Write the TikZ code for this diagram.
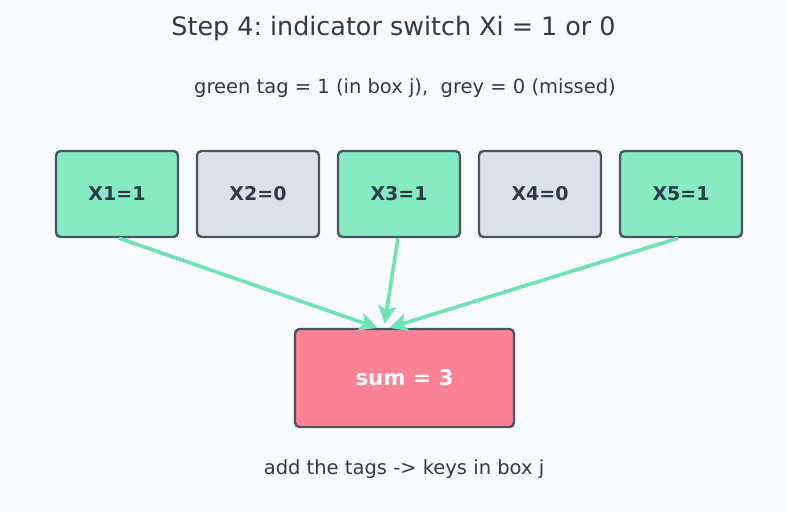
\documentclass[tikz,border=0pt]{standalone}
\usepackage{fontspec}
\setmainfont{DejaVu Sans}
\usetikzlibrary{arrows.meta}
\frenchspacing

\definecolor{bgpage}{HTML}{FAFBFE}
\definecolor{inkdark}{HTML}{2F3A4A}
\definecolor{edgegrey}{HTML}{4A5462}
\definecolor{taggreen}{HTML}{86EBC2}
\definecolor{tagline}{HTML}{6EE3B4}
\definecolor{misgrey}{HTML}{DDE1E7}
\definecolor{sumpink}{HTML}{FD8296}

\tikzset{
  tagbox/.style={draw=edgegrey, line width=2.4pt, rounded corners=4.5pt,
    minimum width=122pt, minimum height=86pt, inner sep=0pt,
    font=\fontsize{19}{22}\selectfont\bfseries, text=inkdark},
  hit/.style={tagbox, fill=taggreen},
  miss/.style={tagbox, fill=misgrey},
  sumbox/.style={draw=edgegrey, line width=2.4pt, rounded corners=4.5pt,
    fill=sumpink, minimum width=219pt, minimum height=98pt, inner sep=0pt,
    font=\fontsize{21.4}{24}\selectfont\bfseries, text=white},
  feed/.style={draw=tagline, line width=3.6pt,
    -{Stealth[length=18pt, width=18pt, inset=4pt]}}
}

\begin{document}
\begin{tikzpicture}[x=1pt, y=-1pt]
    % --- fondo ---
    \fill[bgpage] (0,0) rectangle (787,512);
    \useasboundingbox (0,0) rectangle (787,512);

    % --- textos ---
    \node[text=inkdark, font=\fontsize{25.4}{30}\selectfont] (title) at (393.5,28) {Step 4: indicator switch Xi = 1 or 0};
    \node[text=inkdark, font=\fontsize{19.5}{23}\selectfont] (legend) at (405,88.5) {green tag = 1 (in box j),\ \ grey = 0 (missed)};

    % --- indicadores ---
    \node[hit]  (x1) at (117,194) {X1=1};
    \node[miss] (x2) at (258,194) {X2=0};
    \node[hit]  (x3) at (399,194) {X3=1};
    \node[miss] (x4) at (540,194) {X4=0};
    \node[hit]  (x5) at (681,194) {X5=1};

    % --- suma ---
    \node[sumbox] (sum) at (404.5,378) {sum = 3};
    \node[text=inkdark, font=\fontsize{19.5}{23}\selectfont] (note) at (404,469.5) {add the tags -> keys in box j};

    % --- flechas ---
    \coordinate (in1) at ([xshift=-27pt]sum.north);
    \coordinate (in3) at ([xshift=-20pt, yshift=4pt]sum.north);
    \coordinate (in5) at ([xshift=-15pt]sum.north);
    \draw[feed] ([xshift=2pt]x1.south) -- (in1);
    \draw[feed] ([xshift=-1pt]x3.south) -- (in3);
    \draw[feed] ([xshift=-3pt]x5.south) -- (in5);
\end{tikzpicture}
\end{document}
